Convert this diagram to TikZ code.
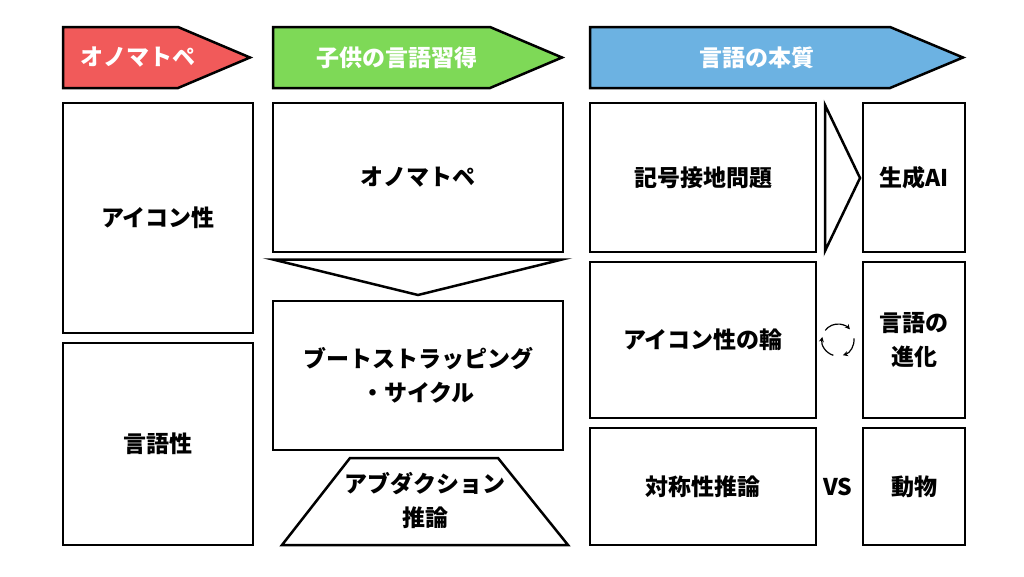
\documentclass[tikz,border=0pt]{standalone}
\usepackage{fontspec}
\setmainfont{Noto Sans CJK JP}[BoldFont={Noto Sans CJK JP Black}]
\usetikzlibrary{arrows.meta}
\definecolor{hdrred}{HTML}{F15A5A}
\definecolor{hdrgreen}{HTML}{7ED957}
\definecolor{hdrblue}{HTML}{6CB2E2}

\begin{document}
\begin{tikzpicture}[x=1pt,y=-1pt,
	every node/.style={font=\fontsize{23}{34}\selectfont\bfseries, align=center},
	hdr/.style={draw=black, line width=2.5pt, line join=miter},
	hdrtxt/.style={text=white},
	box/.style={draw=black, line width=2.5pt, inner sep=0pt},
	shp/.style={draw=black, line width=2.5pt, line join=miter, fill=white}]
	\useasboundingbox (0,0) rectangle (1024,576);
	\fill[white] (0,0) rectangle (1024,576);
	% headers
	\path[hdr, fill=hdrred] (63,27) -- (178,27) -- (250,57.5) -- (178,88) -- (63,88) -- cycle;
	\path[hdr, fill=hdrgreen] (273,27) -- (490,27) -- (562,57.5) -- (490,88) -- (273,88) -- cycle;
	\path[hdr, fill=hdrblue] (590,27) -- (890,27) -- (963,57.5) -- (890,88) -- (590,88) -- cycle;
	\node[hdrtxt] (hOno) at (138,57.5) {オノマトペ};
	\node[hdrtxt] (hKodomo) at (397,57.5) {子供の言語習得};
	\node[hdrtxt] (hHonshitsu) at (757,57.5) {言語の本質};
	% left column
	\node[box, minimum width=190pt, minimum height=230pt] (icon) at (158,218) {アイコン性};
	\node[box, minimum width=190pt, minimum height=202pt] (gengo) at (158,444) {言語性};
	% middle column
	\node[box, minimum width=290pt, minimum height=149pt] (ono) at (418,177.5) {オノマトペ};
	\path[shp] (273,259.5) -- (562,259.5) -- (418,295) -- cycle;
	\node[box, minimum width=290pt, minimum height=149pt] (boot) at (418,375.5) {ブートストラッピング\\・サイクル};
	\path[shp] (350,458) -- (498,458) -- (568,545) -- (282,545) -- cycle;
	\node (abd) at (425,500) {アブダクション\\推論};
	% right column
	\node[box, minimum width=226pt, minimum height=149pt] (kigou) at (703,177.5) {記号接地問題};
	\path[shp] (825,105) -- (860,178) -- (825,251) -- cycle;
	\node[box, minimum width=102pt, minimum height=149pt] (ai) at (914,177.5) {生成AI};
	\node[box, minimum width=226pt, minimum height=156pt] (wa) at (703,340) {アイコン性の輪};
	\node[box, minimum width=102pt, minimum height=156pt] (shinka) at (914,340) {言語の\\進化};
	\node[box, minimum width=226pt, minimum height=117pt] (taisho) at (703,486.5) {対称性推論};
	\node (vs) at (838,487) {VS};
	\node[box, minimum width=102pt, minimum height=117pt] (doubutsu) at (914,486.5) {動物};
	% cycle
	\coordinate (cyc) at (838,340);
	\foreach \a/\b in {143/42, 6/-72, -107/-191}
		\draw[line width=1.2pt, -{Stealth[length=5pt,width=5pt]}] ([shift={(\a:16pt)}]cyc) arc[start angle=\a, end angle=\b, radius=16pt];
\end{tikzpicture}
\end{document}
